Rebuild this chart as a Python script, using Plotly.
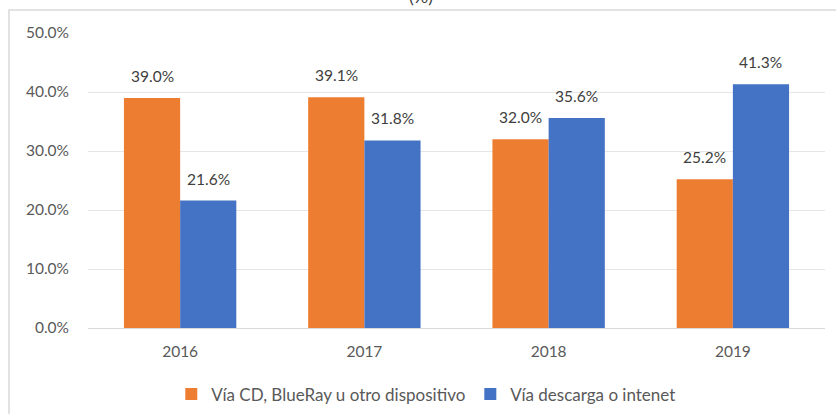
import plotly.graph_objects as go

years = ["2016", "2017", "2018", "2019"]
cd_values = [39.0, 39.1, 32.0, 25.2]
download_values = [21.6, 31.8, 35.6, 41.3]
series_names = ["Vía CD, BlueRay u otro dispositivo", "Vía descarga o intenet"]
y_ticks = [0, 10, 20, 30, 40, 50]
y_tick_labels = ["0.0%", "10.0%", "20.0%", "30.0%", "40.0%", "50.0%"]

FONT = "Lato, 'Open Sans', sans-serif"
TXT = "#595959"
LBL = "#404040"

fig = go.Figure()
fig.add_trace(go.Bar(
    x=years, y=cd_values, name=series_names[0],
    marker=dict(color="#ED7D31", line=dict(width=0)),
))
fig.add_trace(go.Bar(
    x=years, y=download_values, name=series_names[1],
    marker=dict(color="#4472C4", line=dict(width=0)),
))

W, H = 836, 414
ml, mr, mt, mb = 88, 11, 33, 86
pw, ph = W - ml - mr, H - mt - mb
bx = (9 - ml) / pw
by = 1 + (mt - 10) / ph

bar_half = 28  # half bar width offset for labels (px)
annotations = []
for series, sign in ((cd_values, -1), (download_values, 1)):
    for i, v in enumerate(series):
        annotations.append(dict(x=i, y=v, xref="x", yref="y", text=f"{v:.1f}%",
                                showarrow=False, xshift=sign * bar_half, yshift=11,
                                yanchor="bottom",
                                font=dict(size=15.5, color=LBL, family=FONT)))
annotations.append(dict(text="(%)", xref="paper", yref="paper",
                        x=(421 - ml) / pw, y=1 + (mt - 9) / ph,
                        xanchor="center", yanchor="bottom", showarrow=False,
                        font=dict(size=18, color=LBL, family=FONT)))

fig.update_layout(
    width=W, height=H,
    margin=dict(l=ml, r=mr, t=mt, b=mb, pad=0, autoexpand=False),
    paper_bgcolor="white", plot_bgcolor="white",
    barmode="group", bargap=0.39, bargroupgap=0,
    font=dict(family=FONT, size=15.5, color=TXT),
    showlegend=True,
    legend=dict(orientation="h", x=0.459, xanchor="center",
                y=-0.225, yanchor="middle", font=dict(size=17, color=TXT),
                itemwidth=30, traceorder="normal"),
    xaxis=dict(type="category", range=[-0.5, len(years) - 0.5],
               showline=False, ticks="",
               tickfont=dict(size=15.5, color=TXT),
               ticklabelstandoff=12, automargin=False),
    yaxis=dict(range=[0, 50], tickvals=y_ticks, ticktext=y_tick_labels,
               showgrid=True, gridcolor="#e6e6e6", gridwidth=1,
               zeroline=True, zerolinecolor="#d9d9d9", zerolinewidth=1,
               showline=False, ticks="", tickfont=dict(size=15.5, color=TXT),
               ticklabelstandoff=18, automargin=False),
    annotations=annotations,
    shapes=[dict(type="path", xref="paper", yref="paper",
                 path=f"M {bx} -0.5 L {bx} {by} L 1.2 {by}",
                 line=dict(color="#d9d9d9", width=1.5), layer="below")],
)

fig.write_html("out.html", config={"displayModeBar": False},
               post_script="document.body.style.margin='0';document.body.style.overflow='hidden';")
